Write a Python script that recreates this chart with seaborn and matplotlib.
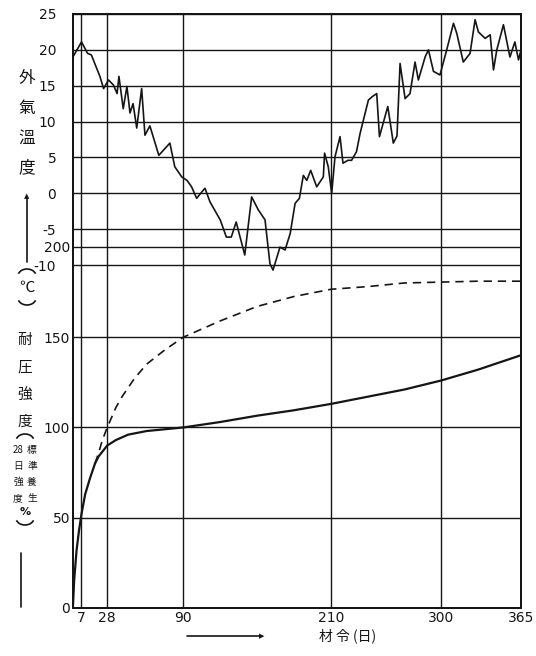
"""
Outdoor temperature and compressive strength vs. age (days).
"""

import matplotlib

matplotlib.use("Agg")
import matplotlib.pyplot as plt
from matplotlib.patches import Arc
import seaborn as sns

# --- data -------------------------------------------------------------
temp_days = [0, 7, 12, 15, 22, 25, 29, 33, 36, 37.5, 41, 44, 46.5, 49, 52, 56,
             58.7, 62.7, 70, 79, 83, 88.6, 93, 96.7, 100.8, 105, 107.6, 111.7,
             120, 125, 129, 133, 140, 145.6, 151, 156.5, 160.5, 163, 168.7,
             172.8, 177, 181, 184.5, 187.7, 190.5, 193.7, 198.6, 204, 205, 208,
             210.8, 213.5, 217.6, 220, 224, 227, 231, 234, 240.7, 244, 247.5,
             249.7, 256.5, 261, 264, 266.5, 268, 270.6, 274.6, 278.7, 281.4,
             286.9, 289.6, 293.7, 299, 304.5, 310, 312.7, 318, 323.5, 327.6,
             330.3, 335.8, 339.9, 342.6, 345.3, 350.7, 356, 360, 363, 365]
temp_values = [19.0, 21.1, 19.5, 19.3, 16.3, 14.6, 15.8, 15.1, 13.9, 16.3, 11.8,
               14.9, 11.2, 12.5, 9.1, 14.6, 8.1, 9.4, 5.3, 7.0, 3.7, 2.3, 1.8,
               0.9, -0.7, 0.2, 0.7, -1.2, -3.7, -6.1, -6.1, -4.0, -8.6, -0.5,
               -2.3, -3.7, -9.8, -10.7, -7.5, -7.9, -5.6, -1.4, -0.7, 2.5, 1.8,
               3.2, 0.9, 2.3, 5.6, 3.7, 0.0, 5.1, 7.9, 4.2, 4.6, 4.6, 5.8, 8.4,
               13.0, 13.5, 13.9, 7.9, 12.1, 7.0, 8.0, 18.1, 16.3, 13.2, 13.9,
               18.3, 15.8, 19.0, 20.0, 17.0, 16.5, 20.0, 23.7, 22.3, 18.3, 19.5,
               24.2, 22.5, 21.6, 22.1, 17.2, 20.0, 23.5, 19.0, 21.1, 18.6, 20.0]

# strength under outdoor curing (solid)
solid_days = [0, 1, 3, 5, 7, 10, 14, 18, 21, 28, 35, 45, 60, 75, 90, 120, 150,
              180, 210, 240, 270, 300, 330, 365]
solid_pct = [0, 15, 32, 43, 52, 63, 72, 80, 84, 90, 93, 96, 98, 99, 100, 103,
             106.5, 109.5, 113, 117, 121, 126, 132, 140]

# strength under standard curing (dashed)
dash_days = [18, 21, 24, 28, 35, 40, 50, 60, 75, 90, 120, 150, 180, 210, 240,
             270, 300, 330, 365]
dash_pct = [80, 86, 93, 100, 111, 117, 127, 135, 143, 150, 159, 167, 172.5,
            176.5, 178, 180, 180.5, 181, 181]

day_ticks = [7, 28, 90, 210, 300, 365]
day_labels = ["7", "28", "90", "210", "300", "365"]
temp_ticks = [25, 20, 15, 10, 5, 0, -5, -10]
temp_labels = ["25", "20", "15", "10", "5", "0", "-5", "-10"]
pct_ticks = [0, 50, 100, 150, 200]
pct_labels = ["0", "50", "100", "150", "200"]

# --- figure -----------------------------------------------------------
sns.set_theme(style="white")
plt.rcParams["font.family"] = ["DejaVu Sans", "Noto Sans CJK JP"]
cjk = ["Noto Sans CJK JP", "DejaVu Sans"]
ink = "#151515"

fig = plt.figure(figsize=(5.36, 6.56), dpi=100)
ax = fig.add_axes([0.136, 0.0732, 0.836, 0.9055])
ax2 = ax.twinx()

ax.set_xlim(0, 365)
ax.set_ylim(0, 329)
ax2.set_ylim(-57.8, 25)

sns.lineplot(x=solid_days, y=solid_pct, ax=ax, color=ink, lw=1.6)
sns.lineplot(x=dash_days, y=dash_pct, ax=ax, color=ink, lw=1.2,
             linestyle=(0, (5, 3.5)))
sns.lineplot(x=temp_days, y=temp_values, ax=ax2, color=ink, lw=1.2)

# grid
ax.set_xticks(day_ticks)
ax.set_xticklabels(day_labels, fontsize=10)
ax.set_yticks(pct_ticks)
ax.set_yticklabels(pct_labels, fontsize=10)
ax2.set_yticks(temp_ticks)
ax2.set_yticklabels(temp_labels, fontsize=10)
ax2.yaxis.set_ticks_position("left")

ax.grid(True, axis="both", color=ink, lw=1.0)
ax2.grid(True, axis="y", color=ink, lw=1.0)
ax.tick_params(axis="both", length=0, pad=2, colors=ink)
ax2.tick_params(axis="y", length=0, pad=12, colors=ink)
for a in (ax, ax2):
    for s in a.spines.values():
        s.set_color(ink)
        s.set_linewidth(1.4)
    a.set_xlabel("")
    a.set_ylabel("")


def fig_xy(px, py):
    return px / 536, 1 - py / 656


def arc(px, py, opening_down, w=16):
    # vertical-writing parenthesis drawn as an arc (pixel units)
    if opening_down:
        cy, t1, t2 = py + 4, 15, 165
    else:
        cy, t1, t2 = py - 4, 195, 345
    fig.add_artist(Arc((px / 100, (656 - cy) / 100), w / 100, 14 / 100,
                       theta1=t1, theta2=t2, color=ink, lw=1.2,
                       transform=fig.dpi_scale_trans))


# left labels (vertical text)
for ch, py in zip("外氣溫度", [78, 108, 138, 168]):
    fig.text(*fig_xy(27, py), ch, family=cjk, fontsize=12, ha="center",
             va="center", color=ink)
fig.add_artist(plt.Line2D([27 / 536, 27 / 536],
                          [1 - 262 / 656, 1 - 198 / 656],
                          color=ink, lw=1.2))
fig.text(*fig_xy(27, 196), "▲", fontsize=5, ha="center", va="center",
         color=ink)
arc(27, 272, True, 18)
fig.text(*fig_xy(27, 287), "℃", family=cjk, fontsize=11, ha="center",
         va="center", color=ink)
arc(27, 302, False, 18)

for ch, py in zip("耐圧強度", [340, 368, 395, 422]):
    fig.text(*fig_xy(25, py), ch, family=cjk, fontsize=10.5, ha="center",
             va="center", color=ink)
arc(25, 437, True, 18)
for ch, py in zip("標準養生", [450, 466, 482, 498]):
    fig.text(*fig_xy(32, py), ch, family=cjk, fontsize=7, ha="center",
             va="center", color=ink)
for ch, py in zip(["28", "日", "強", "度"], [450, 466, 482, 498]):
    fig.text(*fig_xy(18, py), ch, family=cjk, fontsize=7, ha="center",
             va="center", color=ink)
fig.text(*fig_xy(25, 512), "%", fontsize=8, ha="center", va="center",
         color=ink, weight="bold")
arc(25, 522, False, 18)
fig.add_artist(plt.Line2D([21 / 536, 21 / 536],
                          [1 - 607 / 656, 1 - 553 / 656],
                          color=ink, lw=1.2))

# x label with arrow line
fig.add_artist(plt.Line2D([187 / 536, 262 / 536],
                          [1 - 636 / 656, 1 - 636 / 656],
                          color=ink, lw=1.2))
fig.text(*fig_xy(262, 636), "▶", fontsize=5, ha="center", va="center",
         color=ink)
fig.text(*fig_xy(348, 636), "材 令 (日)", family=cjk, fontsize=10,
         ha="center", va="center", color=ink)

fig.savefig("out.png", dpi=100)
